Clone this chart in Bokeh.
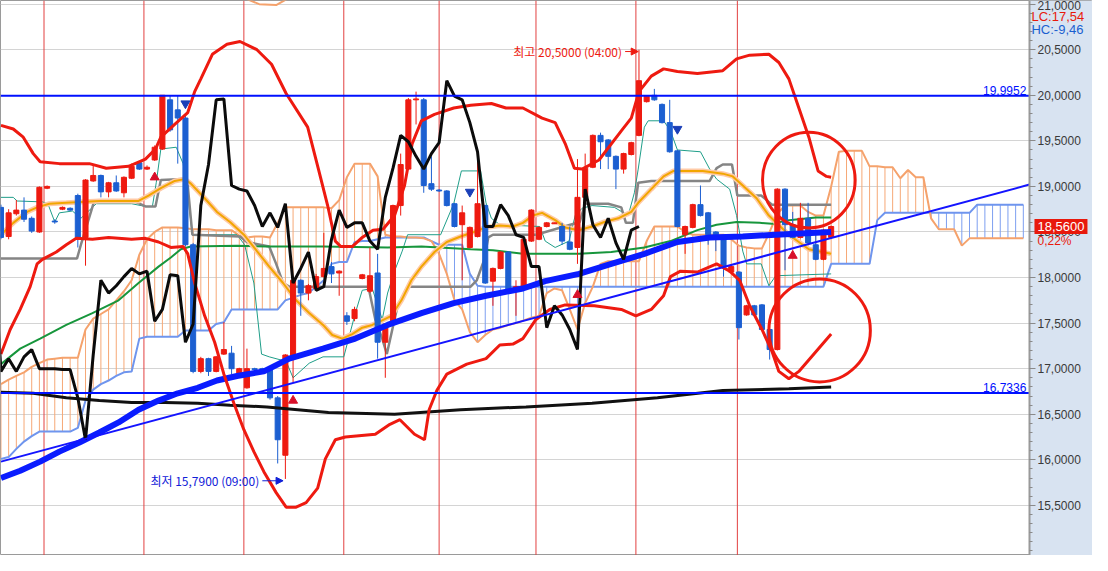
import numpy as np
from bokeh.plotting import figure
from bokeh.models import (ColumnDataSource, Range1d, Span, Label, CustomJSTickFormatter,
                          FixedTicker, Arrow, NormalHead, BoxAnnotation)
from bokeh.core.properties import value
from bokeh.embed import file_html
from bokeh.resources import INLINE

# ---------------- candle data (2h bars) ----------------
opens = [18.77, 18.45, 18.70, 18.74, 18.65, 18.50, 18.98, 18.62, 18.75, 18.76,
         18.90, 18.44, 19.06, 19.12, 18.94, 19.04, 18.93, 19.09, 19.26, 19.19,
         19.29, 19.41, 19.95, 19.84, 19.75, 18.36, 16.97, 17.11, 16.97, 17.16,
         17.17, 16.95, 16.79, 17.00, 17.00, 17.00, 16.68, 16.05, 17.13, 17.97,
         17.83, 17.88, 18.01, 18.12, 18.05, 17.58, 17.55, 17.99, 17.85, 18.05,
         17.29, 17.49, 18.79, 19.19, 19.95, 19.95, 19.03, 18.96, 18.95, 18.81,
         18.58, 18.33, 18.45, 18.79, 17.96, 18.10, 18.28, 17.86, 17.88, 18.40,
         18.42, 18.56, 18.59, 18.56, 18.39, 18.33, 18.88, 19.21, 19.56, 19.51,
         19.33, 19.19, 19.35, 19.56, 19.93, 20.00, 19.90, 19.70, 19.39, 18.47,
         18.55, 18.80, 18.71, 18.50, 18.45, 18.06, 18.06, 17.59, 17.69, 17.70,
         17.43, 17.21, 18.97, 18.58, 18.44, 18.65, 18.36, 18.20, 18.44]
highs = [18.80, 18.75, 18.85, 18.88, 18.67, 19.00, 19.01, 18.64, 18.78, 18.77,
         18.92, 19.08, 19.24, 19.13, 19.05, 19.12, 19.11, 19.25, 19.28, 19.23,
         19.45, 20.00, 20.00, 20.00, 19.78, 18.38, 17.13, 17.12, 17.14, 17.51,
         17.25, 17.01, 17.22, 17.01, 17.01, 17.01, 16.70, 17.16, 17.98, 17.98,
         17.93, 18.04, 18.49, 18.17, 18.08, 17.62, 17.68, 18.04, 18.33, 18.26,
         17.50, 18.80, 19.36, 19.97, 20.04, 19.97, 19.33, 18.97, 18.96, 18.82,
         18.79, 18.56, 19.27, 18.80, 18.11, 18.29, 18.29, 17.97, 18.43, 18.75,
         18.56, 18.61, 18.60, 18.60, 18.56, 19.30, 19.36, 19.57, 19.59, 19.52,
         19.34, 19.37, 19.49, 20.50, 20.00, 20.07, 19.91, 19.95, 19.40, 18.57,
         18.81, 19.01, 18.72, 18.51, 18.46, 18.13, 18.07, 17.70, 17.70, 17.71,
         17.44, 18.98, 18.98, 18.72, 18.82, 18.82, 18.50, 18.53, 18.57]
lows = [18.42, 18.42, 18.68, 18.61, 18.49, 18.49, 18.97, 18.59, 18.74, 18.73,
        18.33, 18.13, 19.05, 18.88, 18.88, 18.94, 18.88, 19.08, 19.18, 19.18,
        19.28, 19.40, 19.60, 19.25, 18.34, 16.95, 16.95, 16.92, 16.96, 17.15,
        16.94, 16.94, 16.78, 16.98, 16.98, 16.66, 15.96, 15.79, 16.85, 17.58,
        17.75, 17.86, 18.00, 17.94, 17.80, 17.48, 17.52, 17.98, 17.83, 17.11,
        16.90, 17.48, 18.68, 19.18, 19.68, 18.93, 18.95, 18.94, 18.78, 18.55,
        17.97, 18.32, 18.44, 17.93, 17.69, 18.09, 17.85, 17.58, 17.87, 18.39,
        18.41, 18.55, 18.59, 18.36, 18.30, 18.15, 18.87, 19.20, 19.19, 19.19,
        18.97, 19.14, 19.34, 19.55, 19.92, 19.94, 19.69, 19.37, 18.55, 18.26,
        18.54, 18.67, 18.36, 18.29, 18.01, 18.05, 17.32, 17.58, 17.58, 17.42,
        17.10, 17.20, 18.08, 18.43, 18.43, 18.37, 18.19, 18.19, 18.43]
closes = [18.44, 18.71, 18.74, 18.64, 18.51, 18.99, 19.00, 18.61, 18.77, 18.74,
          18.44, 19.07, 19.12, 18.94, 19.04, 18.95, 19.10, 19.22, 19.19, 19.21,
          19.43, 20.00, 19.62, 19.75, 18.36, 16.97, 17.11, 16.97, 17.13, 17.21,
          17.00, 17.00, 17.00, 16.99, 16.99, 16.68, 16.22, 17.15, 17.97, 17.83,
          17.91, 18.01, 18.10, 18.04, 18.07, 17.52, 17.65, 18.03, 18.02, 17.29,
          17.49, 18.79, 19.24, 19.95, 19.96, 19.01, 18.97, 18.95, 18.79, 18.56,
          18.71, 18.55, 18.81, 17.94, 18.10, 18.28, 17.86, 17.90, 18.42, 18.74,
          18.55, 18.60, 18.60, 18.40, 18.31, 18.88, 19.20, 19.56, 19.49, 19.33,
          19.19, 19.36, 19.48, 20.16, 19.99, 19.95, 19.70, 19.38, 18.56, 18.56,
          18.80, 18.68, 18.47, 18.44, 18.12, 18.12, 17.45, 17.69, 17.59, 17.43,
          17.21, 18.97, 18.58, 18.44, 18.65, 18.38, 18.20, 18.52, 18.56]

# ---------------- Ichimoku leading spans (shifted 25 bars forward) ----------------
span_a = [16.83, 16.88, 16.92, 16.96, 17.02, 17.06, 17.10, 17.11, 17.12, 17.12,
          17.12, 17.43, 17.55, 17.60, 17.65, 17.75, 17.85, 17.97, 18.25, 18.42,
          18.50, 18.55, 18.55, 18.55, 18.54, 18.53, 18.53, 18.53, 18.52, 18.52,
          18.52, 18.46, 18.44, 18.45, 18.45, 18.44, 18.60, 18.77, 18.77, 18.77,
          18.77, 18.77, 18.77, 18.76, 18.85, 19.10, 19.25, 19.25, 19.25, 19.11,
          18.47, 18.45, 18.45, 18.44, 18.44, 18.43, 18.40, 18.26, 18.04, 17.75,
          17.65, 17.40, 17.29, 17.37, 17.43, 17.45, 17.48, 17.50, 17.53, 17.56,
          17.58, 17.83, 17.88, 17.86, 17.65, 17.43, 17.72, 17.90, 18.15, 18.18,
          18.18, 18.18, 18.18, 18.18, 18.40, 18.56, 18.56, 18.56, 18.56, 18.50,
          18.47, 18.47, 18.47, 18.47, 18.47, 18.42, 18.35, 18.33, 18.32, 18.32,
          18.50, 18.70, 18.79, 18.79, 18.79, 18.72, 18.68, 18.68, 19.00, 19.38,
          19.39, 19.39, 19.39, 19.22, 19.22, 19.21, 19.21, 19.09, 19.18, 19.10,
          19.10, 18.65, 18.53, 18.53, 18.53, 18.35, 18.43, 18.43, 18.43, 18.43,
          18.43, 18.43, 18.43, 18.43]
span_b = [16.01, 16.03, 16.12, 16.20, 16.26, 16.31, 16.31, 16.31, 16.31, 16.31,
          16.35, 16.65, 16.77, 16.83, 16.87, 16.92, 16.96, 16.97, 17.33, 17.35,
          17.35, 17.35, 17.35, 17.35, 17.42, 17.42, 17.42, 17.42, 17.49, 17.51,
          17.65, 17.65, 17.65, 17.65, 17.65, 17.65, 17.65, 17.75, 17.78, 17.81,
          17.83, 17.90, 17.97, 18.15, 18.17, 18.17, 18.39, 18.40, 18.40, 18.42,
          18.44, 18.44, 18.44, 18.44, 18.44, 18.44, 18.40, 18.36, 18.36, 18.36,
          18.36, 18.04, 17.91, 17.90, 17.90, 17.90, 17.90, 17.90, 17.90, 17.90,
          17.90, 17.90, 17.90, 17.90, 17.90, 17.90, 17.90, 17.90, 17.90, 17.90,
          17.90, 17.90, 17.90, 17.90, 17.90, 17.90, 17.90, 17.90, 17.90, 17.90,
          17.90, 17.90, 17.90, 17.90, 17.90, 17.90, 17.90, 17.90, 17.90, 17.90,
          17.90, 17.90, 17.90, 17.90, 17.90, 17.90, 17.90, 17.90, 18.15, 18.15,
          18.15, 18.15, 18.15, 18.15, 18.63, 18.71, 18.71, 18.71, 18.71, 18.71,
          18.71, 18.71, 18.71, 18.71, 18.71, 18.71, 18.71, 18.80, 18.80, 18.80,
          18.80, 18.80, 18.80, 18.80]

# ---------------- indicator lines (bar index, price) ----------------
tenkan_x = [0, 1.6, 2.1, 5.4, 6.1, 7.0, 7.6, 9.3, 10.4, 12.4, 17.0, 18.8, 19.7, 20.2, 20.8, 22.8,
            23.7, 24.3, 24.9, 30.7, 31.7, 32.9, 33.9, 34.9, 37.1, 38.0, 40.1, 41.9, 44.6, 46.1,
            47.0, 48.3, 49.6, 50.3, 51.2, 52.2, 52.9, 57.2, 58.9, 59.9, 62.4, 63.1, 63.8, 64.9,
            70.1, 70.8, 72.1, 73.9, 74.7, 75.6, 76.9, 79.8, 81.6, 82.4, 82.9, 83.7, 84.2, 86.2,
            87.1, 88.0, 91.0, 92.2, 93.1, 94.8, 95.7, 96.5, 97.0, 98.9, 99.9, 100.8, 108.0]
tenkan_y = [18.88, 18.88, 18.84, 18.83, 18.81, 18.61, 18.71, 18.73, 18.65, 18.81, 18.81, 18.78,
            18.78, 19.04, 19.41, 19.43, 19.25, 18.90, 18.47, 18.47, 18.36, 17.94, 17.16, 17.13,
            17.08, 16.90, 17.06, 17.13, 17.13, 17.61, 17.86, 17.88, 17.54, 17.83, 18.07, 18.29,
            18.47, 18.47, 18.81, 19.17, 19.17, 18.82, 18.65, 18.58, 18.56, 18.40, 18.33, 18.40,
            18.68, 18.76, 18.79, 18.77, 18.68, 18.93, 19.19, 19.65, 19.72, 19.72, 19.61, 19.40,
            19.38, 19.19, 19.08, 18.97, 18.68, 18.29, 18.15, 18.15, 17.91, 18.02, 18.04]

kijun_x = [0, 9.9, 10.4, 11.2, 12.1, 17.5, 18.8, 20.1, 20.8, 23.7, 24.3, 24.9, 31.1, 32.0, 34.9,
           35.8, 36.7, 37.5, 47.8, 48.7, 49.6, 50.2, 51.6, 52.9, 61.1, 61.9, 62.8, 63.4, 64.0,
           69.6, 75.3, 76.0, 79.0, 80.7, 81.3, 82.2, 82.9, 84.6, 92.2, 93.1, 93.9, 95.1, 95.8,
           98.9, 100.3, 108.0]
kijun_y = [18.21, 18.21, 18.36, 18.58, 18.83, 18.83, 18.78, 18.78, 19.07, 19.08, 19.01, 18.47,
           18.45, 18.39, 18.34, 18.15, 17.94, 17.90, 17.90, 17.54, 17.33, 17.16, 17.69, 17.90,
           17.90, 17.97, 18.18, 18.44, 18.47, 18.47, 18.61, 18.81, 18.81, 18.77, 18.60, 18.60,
           19.04, 19.06, 19.06, 19.20, 19.24, 19.24, 18.90, 18.90, 18.80, 18.80]

ma_orange_x = [0, 1.6, 3.4, 4.7, 6.3, 8.5, 12.8, 17.9, 19.2, 20.8, 22.6, 23.9, 24.7, 26.5, 28.1,
               29.8, 31.6, 33.3, 34.9, 36.7, 38.4, 40.1, 41.9, 43.1, 44.4, 45.7, 47.0, 48.3, 49.6,
               50.8, 52.1, 53.4, 54.7, 56.4, 58.0, 59.8, 61.5, 63.1, 64.9, 66.6, 67.9, 69.2, 70.4,
               72.1, 73.4, 75.2, 76.9, 78.5, 80.3, 82.0, 82.9, 84.6, 86.2, 87.5, 91.3, 93.9, 95.2,
               96.5, 98.3, 99.9, 102.5, 105.1, 108.0]
ma_orange_y = [18.47, 18.60, 18.72, 18.77, 18.81, 18.82, 18.84, 18.84, 18.90, 18.98, 19.06, 19.08,
               19.03, 18.87, 18.72, 18.61, 18.47, 18.29, 18.12, 17.94, 17.75, 17.61, 17.48, 17.37,
               17.33, 17.38, 17.45, 17.48, 17.53, 17.58, 17.75, 17.97, 18.12, 18.28, 18.39, 18.45,
               18.50, 18.55, 18.57, 18.56, 18.60, 18.68, 18.71, 18.63, 18.55, 18.52, 18.56, 18.61,
               18.65, 18.72, 18.82, 18.97, 19.11, 19.17, 19.17, 19.14, 19.11, 19.01, 18.87, 18.68,
               18.47, 18.31, 18.26]

ma_green_x = [0, 2.5, 5.1, 8.5, 11.9, 15.3, 17.9, 20.5, 22.1, 23.4, 24.7, 30.7, 34.6, 41.9, 50.3,
              54.7, 61.1, 64.0, 67.9, 75.2, 79.4, 83.7, 87.1, 90.6, 93.1, 95.7, 98.7, 100.3, 102.5,
              106.0, 108.0]
ma_green_y = [17.05, 17.22, 17.33, 17.48, 17.61, 17.75, 17.94, 18.12, 18.22, 18.31, 18.34, 18.35,
              18.34, 18.34, 18.33, 18.34, 18.31, 18.30, 18.26, 18.26, 18.28, 18.33, 18.40, 18.52,
              18.58, 18.61, 18.60, 18.59, 18.63, 18.66, 18.66]

ma_blue_x = [0, 2.5, 5.1, 7.6, 10.2, 12.8, 15.3, 17.9, 20.5, 23.0, 25.6, 28.1, 30.7, 34.2, 37.5,
             41.9, 46.1, 50.3, 54.7, 58.9, 63.1, 67.9, 70.8, 75.2, 79.4, 83.7, 88.0, 92.2, 96.5,
             100.8, 108.0]
ma_blue_y = [15.80, 15.88, 15.98, 16.09, 16.19, 16.30, 16.41, 16.55, 16.65, 16.73, 16.79, 16.87,
             16.92, 16.97, 17.11, 17.22, 17.33, 17.48, 17.61, 17.72, 17.80, 17.88, 17.96, 18.04,
             18.15, 18.26, 18.39, 18.44, 18.45, 18.47, 18.50]

ma_black_x = [0, 4.2, 8.5, 12.8, 17.0, 21.3, 25.6, 29.8, 34.6, 42.6, 51.2, 59.8, 68.3, 76.9, 85.4,
              93.9, 102.5, 108.0]
ma_black_y = [16.74, 16.73, 16.68, 16.65, 16.63, 16.63, 16.62, 16.60, 16.58, 16.52, 16.50, 16.55,
              16.58, 16.62, 16.68, 16.76, 16.78, 16.80]

bb_up_x = [0, 1.6, 2.9, 4.2, 5.1, 7.6, 11.5, 13.7, 16.6, 18.8, 20.1, 20.8, 22.6, 24.3, 25.2, 26.0,
           27.5, 29.4, 31.1, 33.3, 35.2, 37.1, 39.9, 41.3, 42.5, 43.5, 44.2, 45.7, 47.0, 48.4,
           49.7, 51.2, 52.5, 53.5, 54.7, 56.4, 58.9, 61.1, 63.8, 65.7, 67.9, 70.4, 72.1, 73.4,
           74.6, 75.6, 77.8, 80.7, 82.0, 83.0, 84.6, 86.2, 88.0, 90.6, 93.9, 95.7, 97.4, 99.9,
           101.2, 102.5, 103.8, 105.1, 106.3, 107.4, 108.0]
bb_up_y = [19.67, 19.63, 19.54, 19.36, 19.27, 19.25, 19.25, 19.20, 19.22, 19.30, 19.41, 19.54,
           19.68, 19.81, 20.04, 20.18, 20.45, 20.56, 20.59, 20.50, 20.34, 20.02, 19.65, 19.19,
           18.79, 18.40, 18.34, 18.34, 18.44, 18.52, 18.53, 18.68, 19.01, 19.47, 19.72, 19.79,
           19.86, 19.89, 19.91, 19.86, 19.86, 19.75, 19.70, 19.47, 19.20, 19.19, 19.29, 19.61,
           19.75, 20.04, 20.21, 20.29, 20.26, 20.24, 20.27, 20.40, 20.44, 20.45, 20.36, 20.18,
           19.86, 19.54, 19.17, 19.11, 19.10]

bb_lo_x = [0, 1.2, 2.5, 3.8, 4.7, 5.4, 7.2, 8.5, 9.8, 11.9, 14.0, 17.0, 18.8, 20.5, 22.1, 23.7,
           24.3, 25.2, 26.5, 27.8, 29.0, 30.3, 31.6, 32.9, 34.2, 35.8, 37.1, 38.4, 39.7, 41.2,
           42.2, 43.5, 44.8, 48.7, 50.6, 51.9, 53.8, 55.1, 55.7, 56.7, 58.0, 60.6, 63.1, 64.9,
           66.6, 67.9, 69.6, 71.4, 73.4, 77.2, 80.7, 82.6, 84.6, 86.2, 87.1, 88.4, 90.6, 93.1,
           94.8, 96.1, 97.4, 99.0, 100.3, 101.2, 102.5, 103.8, 108.0]
bb_lo_y = [17.16, 17.43, 17.65, 17.90, 18.15, 18.20, 18.28, 18.36, 18.43, 18.42, 18.44, 18.42,
           18.43, 18.39, 18.33, 18.34, 18.26, 17.94, 17.58, 17.29, 16.94, 16.62, 16.33, 16.09,
           15.87, 15.64, 15.48, 15.48, 15.53, 15.69, 16.01, 16.22, 16.25, 16.28, 16.39, 16.44,
           16.28, 16.22, 16.55, 16.76, 16.94, 17.05, 17.11, 17.26, 17.27, 17.33, 17.54, 17.65,
           17.70, 17.69, 17.65, 17.58, 17.65, 17.80, 18.01, 18.07, 18.06, 18.15, 18.07, 17.97,
           17.69, 17.43, 17.19, 16.97, 16.89, 16.97, 17.38]

# small piece of a salmon curve visible at the very top
top_arc_x = [31.6, 33.6, 35.8, 37.5]
top_arc_y = [21.07, 21.00, 20.99, 21.07]

# trend line, levels, session boundaries, signals, hand-drawn circles
trend_x = [0, 133.8]
trend_y = [15.98, 19.02]
level_hi = 19.9952
level_lo = 16.7336
sessions = [5.6, 18.6, 31.6, 44.6, 57.0, 69.6, 82.6, 95.8]
buy_x = [20, 38, 75, 103]
buy_y = [19.10, 16.65, 17.81, 18.24]
sell_x = [24, 61, 88]
sell_y = [19.91, 18.94, 19.63]
circle_x = [105.1, 106.5]
circle_y = [19.07, 17.42]
circle_w = [12.05, 13.2]
circle_h = [1.05, 1.13]
lag = 25
last_price = 18.56
last_text = "18,5600"
change_pct = "0,22%"
lc_text = "LC:17,54"
hc_text = "HC:-9,46"

RED = "#ee1a10"
BLUE_C = "#1c5fd1"
X0, AXX, X1 = -0.06, 133.8, 142.0      # chart area ends at AXX; price strip up to X1
Y0, Y1 = 14.95, 21.04
W, H = 1092, 555

n = len(closes)
idx = list(range(n))

p = figure(width=W, height=H, x_range=Range1d(X0, X1), y_range=Range1d(Y0, Y1),
           output_backend="svg", toolbar_location=None, x_axis_location=None,
           y_axis_location="right", min_border_left=0, min_border_top=0, min_border_bottom=0,
           min_border_right=0, background_fill_color="white", border_fill_color="#d8e3f1",
           outline_line_color="#9a9a9a")

ticks = [15.5 + 0.5 * k for k in range(12)]
minor = [round(14.9 + 0.1 * k, 2) for k in range(63)]
ticker = FixedTicker(ticks=ticks, minor_ticks=minor)
ax = p.yaxis[0]
ax.fixed_location = AXX
ax.ticker = ticker
ax.formatter = CustomJSTickFormatter(code="return tick.toFixed(4).replace('.', ',');")
ax.axis_line_color = "#9a9a9a"
ax.axis_line_width = 2
ax.major_tick_line_color = "#8a8a8a"
ax.minor_tick_line_color = "#8a8a8a"
ax.major_tick_out = 6
ax.major_tick_in = 0
ax.minor_tick_out = 3
ax.minor_tick_in = 0
ax.major_label_standoff = 2
ax.major_label_text_font = "Liberation Sans"
ax.major_label_text_font_size = "12px"
ax.major_label_text_color = "#3a3a3a"
p.ygrid.ticker = ticker
p.ygrid.grid_line_color = "#d4d4d4"
p.xgrid.visible = False

# price strip background
p.add_layout(BoxAnnotation(left=AXX, fill_color="#d8e3f1", fill_alpha=1.0, line_alpha=0,
                           level="underlay"))

for s in sessions:
    p.add_layout(Span(location=s, dimension="height", line_color="#e24040", line_width=1,
                      level="underlay"))

# cloud hatching
cx = list(range(len(span_a)))
hcol = ["#f6a876" if a >= b else "#7d9ff0" for a, b in zip(span_a, span_b)]
p.segment(x0=cx, y0=span_a, x1=cx, y1=span_b, line_color=hcol, line_width=1)
p.line(cx, span_b, line_color="#6f95ee", line_width=2)
p.line(cx, span_a, line_color="#f5a26c", line_width=2)
p.line(top_arc_x, top_arc_y, line_color="#f5a26c", line_width=2)

p.line(tenkan_x, tenkan_y, line_color="#1f9e89", line_width=1)
p.line(kijun_x, kijun_y, line_color="#858585", line_width=2.5)
p.line(ma_green_x, ma_green_y, line_color="#17963c", line_width=2)
p.line(ma_orange_x, ma_orange_y, line_color="#ffcaa6", line_width=5)
p.line(ma_orange_x, ma_orange_y, line_color="#f2a600", line_width=2)

# candles
top = [max(o, c) for o, c in zip(opens, closes)]
bot = [min(o, c) for o, c in zip(opens, closes)]
col = [RED if c >= o else BLUE_C for o, c in zip(opens, closes)]
src = ColumnDataSource(dict(x=idx, top=top, bot=bot, hi=highs, lo=lows, col=col))
p.segment(x0="x", y0="lo", x1="x", y1="hi", line_color="col", line_width=1, source=src)
p.vbar(x="x", width=0.66, top="top", bottom="bot", fill_color="col", line_color="col", source=src)

p.line(ma_black_x, ma_black_y, line_color="#111111", line_width=3)
p.line(ma_blue_x, ma_blue_y, line_color="#0a1cff", line_width=6)
p.line(bb_up_x, bb_up_y, line_color=RED, line_width=3)
p.line(bb_lo_x, bb_lo_y, line_color=RED, line_width=3)
# lagging span = closes shifted back
p.line([i - lag for i in idx if i - lag >= -1], [c for i, c in zip(idx, closes) if i - lag >= -1],
       line_color="#0b0b0b", line_width=3)
p.line(trend_x, trend_y, line_color="#1414ff", line_width=2)

p.segment(x0=[X0, X0], y0=[level_hi, level_lo], x1=[AXX, AXX], y1=[level_hi, level_lo],
          line_color="#0010ff", line_width=2)

p.scatter(buy_x, buy_y, marker="triangle", size=9, fill_color="#d8102a", line_color="#d8102a")
p.scatter(sell_x, sell_y, marker="inverted_triangle", size=9, fill_color="#1a3fb8",
          line_color="#1a3fb8")

p.ellipse(x=circle_x, y=circle_y, width=circle_w, height=circle_h, fill_color=None,
          line_color=RED, line_width=3)

kfont = value("Noto Sans CJK KR")
p.text(x=[80.8], y=[20.48], text=["최고 20,5000 (04:00)"], text_font=kfont,
       text_font_size="12px", text_color=RED, text_align="right", text_baseline="middle")
p.add_layout(Arrow(end=NormalHead(size=7, fill_color=RED, line_color=RED), x_start=81.2,
                   y_start=20.48, x_end=82.9, y_end=20.48, line_color=RED, line_width=1))
p.text(x=[33.6], y=[15.77], text=["최저 15,7900 (09:00)"], text_font=kfont,
       text_font_size="12px", text_color="#1020d8", text_align="right", text_baseline="middle")
p.add_layout(Arrow(end=NormalHead(size=7, fill_color="#1020d8", line_color="#1020d8"),
                   x_start=34.0, y_start=15.77, x_end=36.7, y_end=15.77,
                   line_color="#1020d8", line_width=1))

p.text(x=[133.4, 133.4], y=[level_hi, level_lo], text=["19,9952", "16,7336"],
       text_font=value("Liberation Sans"), text_font_size="12px", text_color="#0010ff",
       text_align="right", text_baseline="bottom", y_offset=-1)

# labels in the price strip
px_per_x = W / (X1 - X0)
px_per_y = H / (Y1 - Y0)
p.add_layout(Label(x=AXX + 5 / px_per_x, y=last_price, text=last_text,
                   text_font="Liberation Sans", text_font_size="13px", text_color="white",
                   text_baseline="middle", background_fill_color="#e8190c", padding=3))
p.add_layout(Label(x=AXX + 8 / px_per_x, y=last_price - 14 / px_per_y, text=change_pct,
                   text_font="Liberation Sans", text_font_size="12px", text_color="#e8190c",
                   text_baseline="middle"))
p.add_layout(Label(x=AXX + 2 / px_per_x, y=Y1 - 16 / px_per_y, text=lc_text,
                   text_font="Liberation Sans", text_font_size="13px", text_color="#e8190c",
                   text_baseline="middle"))
p.add_layout(Label(x=AXX + 2 / px_per_x, y=Y1 - 29 / px_per_y, text=hc_text,
                   text_font="Liberation Sans", text_font_size="13px", text_color="#1a5fd0",
                   text_baseline="middle"))

open("out.html", "w").write(file_html(p, INLINE))
